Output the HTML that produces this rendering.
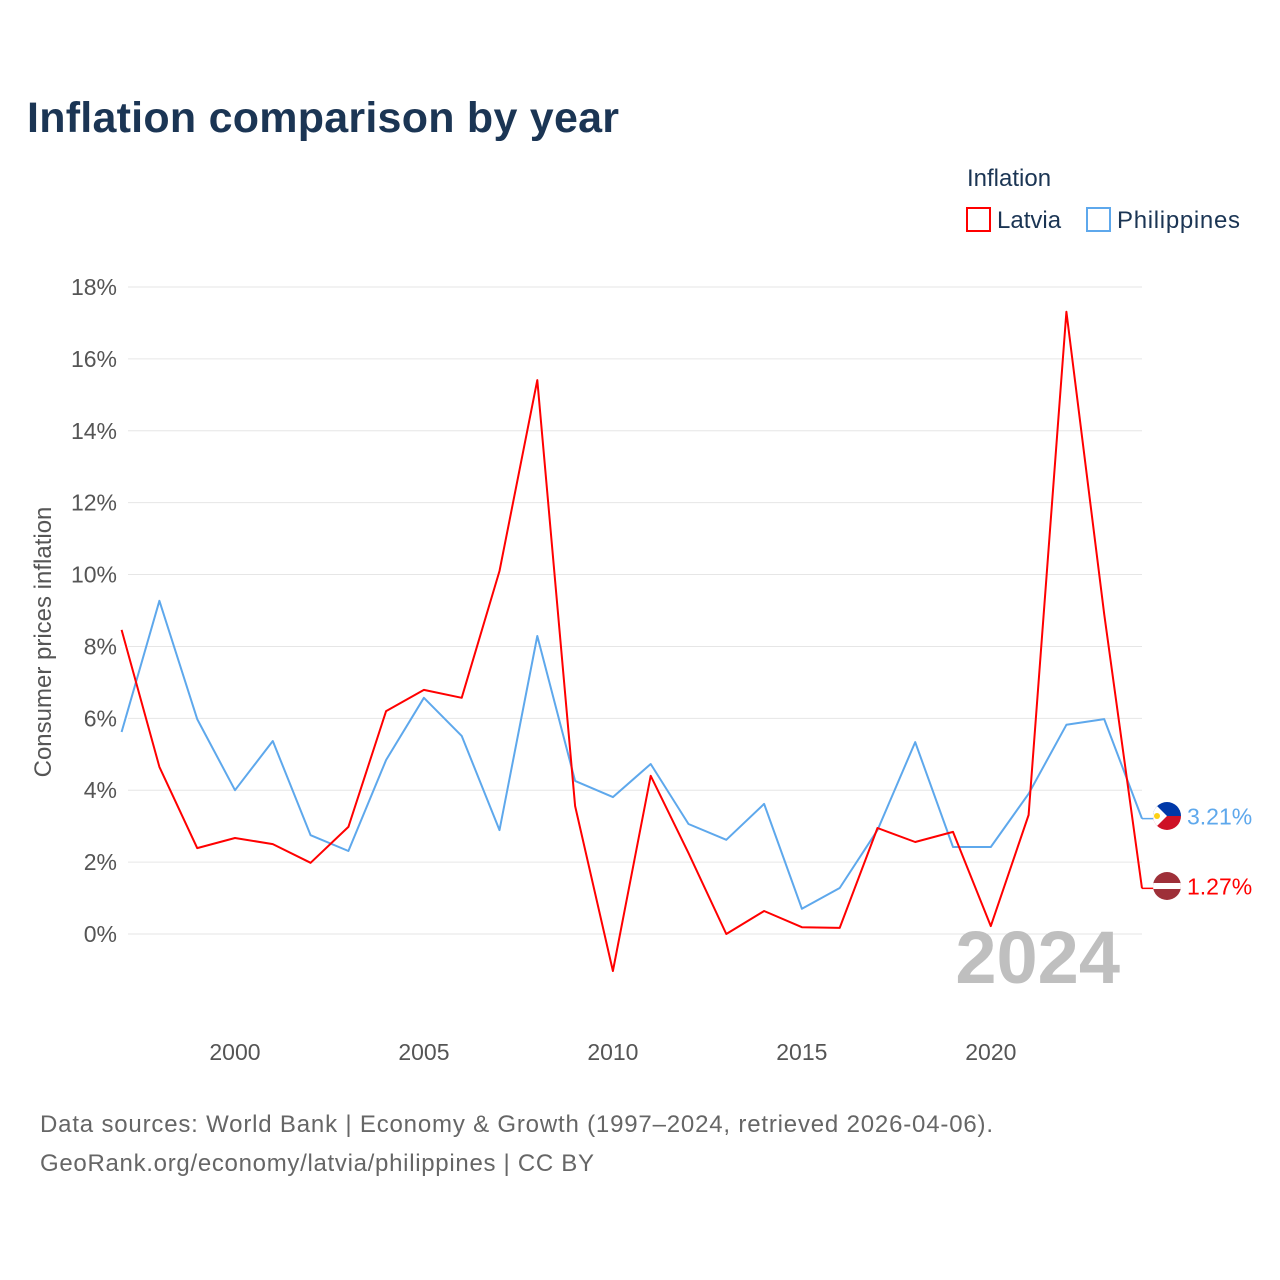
<!DOCTYPE html>
<html><head><meta charset="utf-8">
<style>
body{margin:0;background:#fff;font-family:"Liberation Sans",sans-serif;}
svg{display:block}
</style></head>
<body>
<svg id="chart" width="1280" height="1280" xmlns="http://www.w3.org/2000/svg">
<defs>
<clipPath id="cp1"><circle cx="1167" cy="816" r="14"/></clipPath>
<clipPath id="cp2"><circle cx="1167" cy="886" r="14"/></clipPath>
</defs>
<text x="27" y="132" font-size="43" font-weight="bold" fill="#1b3554" textLength="592">Inflation comparison by year</text>
<g>
<text x="967" y="186" font-size="24" fill="#1b3554">Inflation</text>
<g><rect x="967" y="208" width="23" height="23" fill="none" stroke="#f00" stroke-width="2"/><text x="997" y="228" font-size="24" fill="#1b3554">Latvia</text></g>
<g><rect x="1087" y="208" width="23" height="23" fill="none" stroke="#5ea8ec" stroke-width="2"/><text x="1117" y="228" font-size="24" fill="#1b3554" textLength="123">Philippines</text></g>
</g>
<g id="grid"></g>
<g id="yticks"></g>
<g id="xticks"></g>
<text transform="translate(51,642) rotate(-90)" text-anchor="middle" font-size="24" fill="#555">Consumer prices inflation</text>
<text x="1120" y="983" text-anchor="end" font-size="74" font-weight="bold" fill="#bfbfbf">2024</text>
<g id="series"></g>
<g clip-path="url(#cp1)">
<rect x="1153" y="802" width="28" height="14" fill="#0038a8"/><rect x="1153" y="816" width="28" height="14" fill="#ce1126"/>
<polygon points="1153,802 1167,816 1153,830" fill="#fff"/><circle cx="1157" cy="816" r="3" fill="#fcd116"/>
</g>
<g clip-path="url(#cp2)">
<rect x="1153" y="872" width="28" height="28" fill="#9e3039"/><rect x="1153" y="883" width="28" height="6" fill="#fff"/>
</g>
<text x="40" y="1132" font-size="24" fill="#666" textLength="953">Data sources: World Bank | Economy &amp; Growth (1997–2024, retrieved 2026-04-06).</text>
<text x="40" y="1171" font-size="24" fill="#666" textLength="554">GeoRank.org/economy/latvia/philippines | CC BY</text>
</svg>
<script>
const years=[1997,1998,1999,2000,2001,2002,2003,2004,2005,2006,2007,2008,2009,2010,2011,2012,2013,2014,2015,2016,2017,2018,2019,2020,2021,2022,2023,2024];
const latvia=[8.46,4.65,2.39,2.67,2.50,1.98,2.98,6.20,6.79,6.57,10.10,15.41,3.56,-1.03,4.40,2.25,0.0,0.64,0.19,0.17,2.95,2.56,2.84,0.22,3.31,17.31,8.9,1.27];
const philippines=[5.62,9.27,5.98,4.0,5.37,2.75,2.31,4.84,6.57,5.51,2.89,8.29,4.26,3.81,4.73,3.06,2.62,3.62,0.70,1.28,2.89,5.34,2.42,2.42,3.9,5.82,5.98,3.21];
const yTicks=[0,2,4,6,8,10,12,14,16,18];
const xTicks=[2000,2005,2010,2015,2020];
const NS="http://www.w3.org/2000/svg";
const xs=y=>121.6+(y-1997)*(1142-121.6)/27;
const ys=v=>934-v*(934-287)/18;
function mk(t,a,p){const e=document.createElementNS(NS,t);for(const k in a)e.setAttribute(k,a[k]);p.appendChild(e);return e;}
const grid=document.getElementById('grid'),yt=document.getElementById('yticks'),xt=document.getElementById('xticks'),ser=document.getElementById('series');
yTicks.forEach(v=>{
 const l=mk('line',{x1:128,x2:1142,y1:ys(v),y2:ys(v),stroke:'#e6e6e6','stroke-width':1},grid);
 
 
 const t=mk('text',{x:117,y:ys(v)+8,'text-anchor':'end','font-size':23,fill:'#555'},yt);
 t.textContent=v+'%';
 
 
});
xTicks.forEach(y=>{
 const t=mk('text',{x:xs(y),y:1060,'text-anchor':'middle','font-size':23,fill:'#555'},xt);
 t.textContent=y;
 
 
});
function line(vals,col,name,label){
 const pts=vals.map((v,i)=>xs(years[i]).toFixed(1)+','+ys(v).toFixed(1)).join(' ');
 const p=mk('polyline',{points:pts,fill:'none',stroke:col,'stroke-width':2,'stroke-linejoin':'round'},ser);
 
 
 const v=vals[vals.length-1],x=xs(years[years.length-1]),y=ys(v);
 mk('line',{x1:x,x2:x+12,y1:y,y2:y,stroke:col,'stroke-width':1.5},ser);
 const t=mk('text',{x:x+45,y:y+6,'font-size':23,fill:col},ser);
 t.textContent=label;
 
 
}
line(philippines,'#5ea8ec','philippines',philippines[27].toFixed(2)+'%');
line(latvia,'#f00','latvia',latvia[27].toFixed(2)+'%');
</script>
</body></html>
